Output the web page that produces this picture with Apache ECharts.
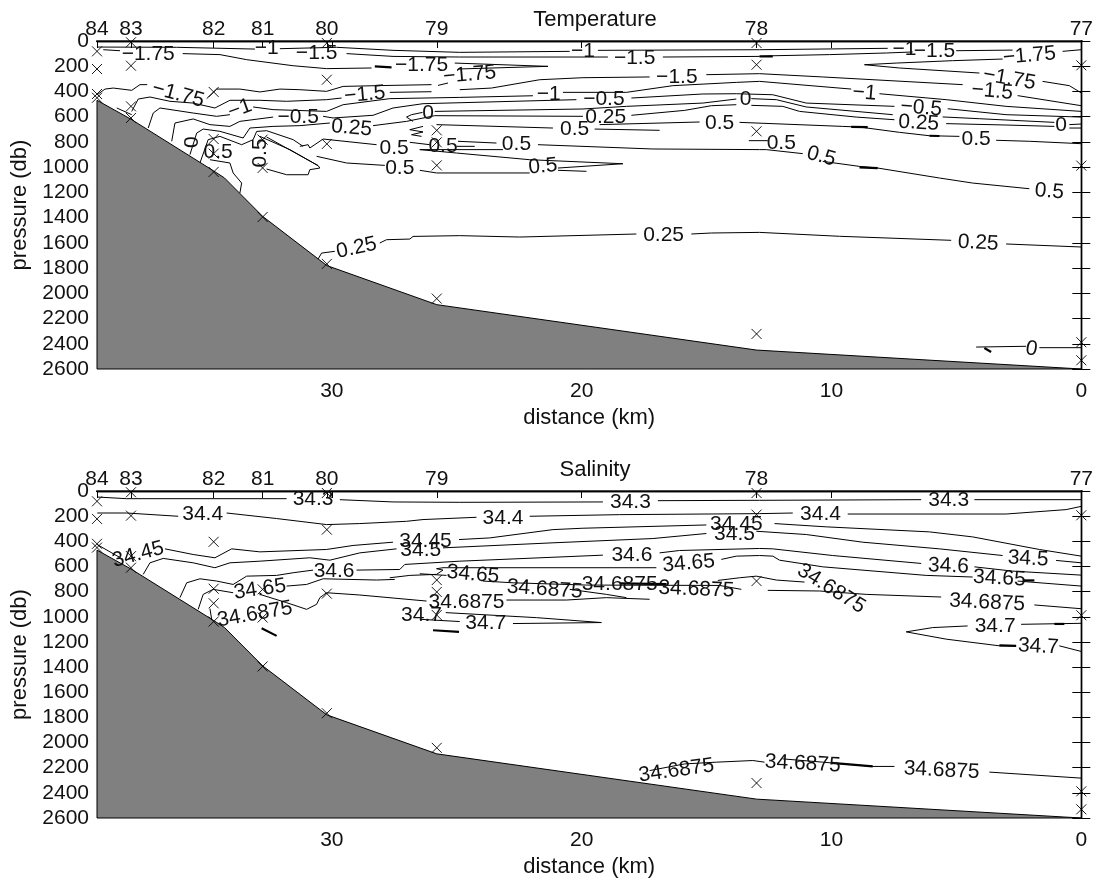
<!DOCTYPE html>
<html><head><meta charset="utf-8">
<style>html,body{margin:0;padding:0;background:#fff}#c{width:1096px;height:879px}</style>
<script src="https://cdn.jsdelivr.net/npm/echarts@6/dist/echarts.min.js"></script>
</head><body><div id="c"></div>
<script>
const stationKm=[39.4,38.04,34.73,32.77,30.2,25.8,13,0];
const stationNames=['84','83','82','81','80','79','78','77'];
const extraTopTicks=[10,20,30];
const bottomKm=[39.4,38.04,34.73,34.3,32.77,30.2,25.8,13,0];
const bottomDb=[470,620,1030,1085,1390,1780,2090,2450,2600];
const castPoints=[[39.4,82],[39.4,222],[39.4,420],[39.4,450],[38.04,10],[38.04,196],[38.04,518],[38.04,610],
[34.73,404],[34.73,777],[34.73,893],[34.73,1038],[32.77,782],[32.77,1006],[32.77,1395],
[30.2,16],[30.2,307],[30.2,816],[30.2,1767],[25.8,708],[25.8,803],[25.8,986],[25.8,2042],
[13,16],[13,188],[13,716],[13,2322],[0,193],[0,988],[0,2388],[0,2531]];
const pressureTicks={min:0,max:2600,step:200};

const tempContours=[
[[39.39,48],[36.21,50],[33.08,64]],
[[32.08,61],[29.81,50],[27.55,74],[24.88,90],[20.48,82]],
[[19.35,74],[12.88,69],[7.75,58]],
[[5.01,77],[2.75,72]],
[[0.75,82],[0,69]],
[[39.15,69],[38.48,77]],
[[35.97,100],[34.48,108],[33.41,148],[31.55,196],[30.21,219],[28.41,214]],
[[29.41,100],[27.55,122],[24.88,127],[18.95,127]],
[[16.75,127],[12.88,122],[12.35,117],[10.08,108],[7.81,95],[6.75,87]],
[[25.08,175],[21.35,201],[24.95,222]],
[[3.15,143],[5.15,156],[7.41,175],[8.68,188],[7.28,214],[4.08,254]],
[[1.55,320],[0.48,354],[0,412]],
[[39.39,426],[39.08,381],[38.75,373],[38.01,391],[37.68,346],[37.39,346]],
[[35.01,457],[34.61,381],[33.68,381],[32.88,404],[32.08,381],[31.28,386],[30.21,399],[29.55,360],[28.21,354],[26.01,346]],
[[25.75,352],[25.35,333]],
[[38.01,558],[37.75,460],[37.28,444],[36.48,478],[35.55,492],[34.68,531],[34.08,470],[32.88,470],[31.81,478],[30.21,465],[29.61,452]],
[[27.68,407],[26.01,402]],
[[24.88,386],[23.61,373],[21.68,307],[19.95,291],[17.28,285]],
[[15.01,267],[12.88,259],[10.35,285],[4.75,346]],
[[2.55,433],[0,513]],
[[37.35,690],[37.15,571],[36.88,531],[35.55,571],[34.61,597],[34.08,584]],
[[33.15,523],[32.35,544],[30.21,558],[29.55,505],[27.68,457],[24.88,447],[21.95,434]],
[[20.75,407],[18.21,407],[16.35,354],[13.81,328],[12.88,320],[9.21,381]],
[[8.08,418],[5.41,465],[3.01,518],[0,558]],
[[36.41,795],[36.28,650],[35.55,618],[34.88,663],[34.08,677],[33.68,637],[32.35,603]],
[[30.35,597],[29.95,610],[28.35,589],[27.55,531],[26.35,497],[20.21,465]],
[[18.01,452],[15.15,420],[13.81,418],[12.35,426],[11.01,492],[7.48,518]],
[[5.35,537],[3.01,584],[0,603]],
[[26.37,566],[26.81,584],[27.01,603],[26.75,637]],
[[25.88,558],[19.95,539],[18.21,518],[15.15,492],[13.81,460]],
[[13.21,457],[12.21,465],[11.01,523],[7.55,584]],
[[5.55,602],[4.08,616],[1.08,645]],
[[0.48,663],[0,658]],
[[5.41,655],[3.01,666],[1.08,677]],
[[0.48,690],[0,690]],
[[13.21,510],[11.95,518],[11.28,558],[9.01,603],[7.48,624]],
[[25.88,592],[19.95,597]],
[[18.01,589],[15.88,550],[14.81,513],[13.81,505]],
[[35.68,901],[35.41,730],[35.15,698],[34.48,716],[33.55,769],[33.28,690],[32.35,677],[31.28,671],[30.08,650]],
[[28.35,671],[27.01,637],[25.88,592]],
[[35.28,967],[34.95,782],[34.48,756],[33.61,822],[33.15,782],[33.01,717],[32.61,711],[31.55,782],[31.15,835]],
[[32.88,756],[31.68,861],[30.55,988],[30.48,1007],[30.88,1020],[30.95,1060],[31.81,1060],[32.61,1015]],
[[32.61,761],[30.55,988]],
[[34.88,941],[34.08,967],[33.95,1046],[33.61,1126],[33.68,1205]],
[[31.28,835],[30.95,822],[30.88,848],[30.35,777],[28.21,822]],
[[30.61,914],[29.41,967],[27.88,986]],
[[26.48,1025],[25.81,1046],[25.15,1046],[22.08,1046]],
[[20.95,1025],[19.81,1033]],
[[26.48,861],[25.01,888],[22.08,941],[18.35,973],[20.95,1007]],
[[26.88,803],[26.08,822]],
[[25.01,835],[24.28,835]],
[[26.48,861],[23.15,861]],
[[24.95,795],[23.41,809]],
[[21.75,822],[17.15,856],[12.88,861],[12.61,861],[11.15,893]],
[[10.35,954],[8.88,994],[8.15,1007],[5.68,1086],[4.35,1126],[2.08,1171]],
[[25.81,663],[21.15,690]],
[[19.48,698],[16.88,708]],
[[19.28,663],[15.28,642]],
[[13.68,645],[9.55,677],[8.88,682],[7.28,724],[6.08,751],[4.88,756]],
[[3.41,787],[2.08,795],[0,814]],
[[13.31,790],[12.55,790]],
[[26.35,677],[26.88,703],[26.35,721],[26.81,743],[26.41,756]],
[[30.55,1728],[30.41,1681],[29.88,1667]],
[[28.08,1601],[27.81,1575],[26.88,1570],[26.75,1549],[24.88,1543],[22.48,1554],[17.81,1530]],
[[15.61,1530],[14.81,1522],[12.88,1517],[9.68,1548],[5.21,1580]],
[[3.01,1609],[0,1633]],
[[4.21,2426],[2.21,2420]],
[[1.68,2431],[0,2431]],
[[38.61,531],[38.01,584]]
];
const tempThick=[
[[12.88,122],[12.35,122]],
[[28.28,201],[27.61,209]],
[[8.88,1002],[8.15,1007]],
[[3.88,2433],[3.61,2465]],
[[6.08,751],[5.68,753]],
[[9.21,680],[8.55,682]]
];
const tempLabels=[
[37.35,108,'−1.75',0],[36.15,425,'−1.75',-15],[33.68,539,'−1',20],[32.61,56,'−1',0],[30.61,95,'−1.5',0],
[26.41,188,'−1.75',0],[28.68,425,'−1.5',5],[31.35,603,'−0.5',0],[29.21,690,'0.25',-5],[26.15,571,'0',0],
[35.57,801,'0',90],[34.55,883,'0.5',0],[27.51,848,'0.5',0],[27.28,1007,'0.5',0],[25.55,835,'0.5',0],[32.88,888,'0.5',90],
[19.95,82,'−1',0],[17.88,140,'−1.5',0],[24.48,267,'−1.75',5],[16.19,285,'−1.5',0],[21.32,425,'−1',0],
[19.11,465,'−0.5',0],[19.04,603,'0.25',0],[20.28,703,'0.5',0],[14.48,650,'0.5',0],[13.44,465,'0',0],
[22.61,822,'0.5',0],[21.55,994,'0.5',5],[16.72,1540,'0.25',0],
[7.08,64,'−1',0],[5.88,82,'−1.5',0],[2.08,117,'−1.75',5],[2.88,301,'−1.75',-10],[3.57,399,'−1.5',-5],
[8.68,412,'−1',-5],[6.41,531,'−0.5',-5],[6.51,650,'0.25',-3],[0.81,669,'0',0],[4.21,777,'0.5',0],
[12.01,809,'0.5',0],[10.41,914,'0.5',-15],[1.28,1192,'0.5',-5],[4.13,1601,'0.25',-3],[1.99,2441,'0',-10],[29.01,1641,'0.25',12]
];

const salContours=[
[[39.39,48],[38.21,61],[31.81,61]],
[[29.68,69],[27.55,87],[24.88,90],[19.15,87]],
[[16.95,77],[12.88,74],[6.41,69]],
[[4.28,69],[0,69]],
[[39.39,175],[38.21,175],[36.15,201]],
[[34.21,175],[32.21,219],[30.21,267],[28.88,259],[27.01,241],[26.35,227],[24.21,209]],
[[22.08,201],[18.48,188],[12.88,180],[11.55,175]],
[[9.35,183],[3.01,183],[0.61,148],[0,122]],
[[39.39,426],[38.35,544]],
[[36.68,460],[35.55,505],[34.68,531],[34.01,460],[32.88,484],[30.21,465],[29.15,433],[27.55,407]],
[[24.91,386],[23.68,373],[21.15,307],[19.95,296],[15.01,270]],
[[12.28,259],[10.21,285],[6.08,325],[4.35,365],[1.68,465],[0,518]],
[[37.55,663],[37.28,571],[36.75,536],[35.55,571],[34.68,610],[34.08,571],[32.88,558],[30.88,531],[30.08,550],[28.88,492],[27.41,460]],
[[25.55,452],[21.15,412],[17.15,378],[15.01,338]],
[[13.01,320],[11.01,346],[8.75,407],[5.68,460],[3.15,513]],
[[1.01,552],[0,571]],
[[36.08,848],[35.81,730],[35.28,698],[34.61,716],[33.95,743],[33.41,677],[32.21,671],[31.55,650],[30.75,629]],
[[29.01,629],[27.28,624],[27.08,584],[24.88,558],[19.15,510]],
[[16.88,492],[16.08,473],[12.88,457],[12.35,460],[9.95,513],[6.41,576]],
[[4.28,603],[2.75,637],[0,669]],
[[35.35,941],[35.15,822],[34.75,782],[33.95,809]],
[[31.81,756],[31.01,743],[30.35,698],[28.21,708],[27.48,703]],
[[27.68,690],[26.88,671],[25.81,663],[25.55,629],[25.81,618],[25.55,610],[17.01,610]],
[[14.41,544],[13.81,518],[12.88,513],[12.35,518],[12.08,550],[10.35,603],[6.21,671],[4.35,684]],
[[2.55,716],[0,756]],
[[26.48,658],[25.41,671]],
[[32.88,822],[31.81,888],[31.01,941],[30.61,901],[30.48,848],[30.21,809],[28.88,827],[26.21,875]],
[[34.88,935],[34.81,1020]],
[[23.01,867],[20.61,867],[19.01,848],[17.28,861]],
[[23.95,716],[22.75,730],[19.81,748],[14.48,751],[13.61,782]],
[[20.48,782],[19.01,822],[18.21,848]],
[[14.55,711],[13.68,690],[13.01,677],[12.21,708],[11.08,724]],
[[12.55,790],[10.48,795],[8.61,822],[5.61,843]],
[[1.88,906],[0,936]],
[[25.44,967],[21.81,1007],[19.21,1046],[22.75,1054]],
[[26.48,1020],[24.88,1038]],
[[4.55,1073],[5.95,1086],[7.01,1120],[5.41,1178],[3.28,1231],[2.61,1231]],
[[2.41,1060],[0,1052]],
[[0.88,1231],[0,1276]],
[[17.28,2223],[15.88,2170],[14.6,2156],[13.15,2143],[12.68,2156]],
[[11.95,2130],[10.35,2156],[8.35,2190],[7.48,2190]],
[[3.68,2235],[0,2283]]
];
const salThick=[
[[25.95,1107],[24.91,1120]],
[[32.81,1091],[32.21,1152]],
[[2.35,711],[1.88,711]],
[[10,2162],[8.35,2190]],
[[3.28,1228],[2.61,1231]],
[[1.08,1057],[0.68,1057]],
[[18.48,735],[16.6,740]]
];
const salLabels=[
[30.75,69,'34.3',0],[35.17,188,'34.4',0],[37.75,505,'34.45',15],[26.25,399,'34.45',0],[26.44,470,'34.5',0],
[29.91,637,'34.6',0],[32.88,782,'34.65',8],[33.08,980,'34.6875',10],[26.41,986,'34.7',0],
[18.05,87,'34.3',0],[23.15,214,'34.4',0],[13.81,267,'34.45',0],[13.88,346,'34.5',0],[17.99,510,'34.6',0],
[24.35,663,'34.65',-5],[15.72,576,'34.65',5],[21.48,782,'34.6875',-4],[18.48,743,'34.6875',0],[15.41,782,'34.6875',-2],
[24.61,883,'34.6875',0],[23.84,1052,'34.7',0],
[5.31,74,'34.3',0],[10.44,188,'34.4',0],[2.13,539,'34.5',-3],[5.32,597,'34.6',-2],[3.28,695,'34.65',-3],
[10.01,777,'34.6875',-32],[3.77,888,'34.6875',-3],[3.45,1073,'34.7',0],[1.72,1237,'34.7',-3],
[11.15,2169,'34.6875',-3],[5.59,2222,'34.6875',-3],[16.21,2223,'34.6875',8]
];

const FONT='"Liberation Sans",Arial,sans-serif', INK='#111';
const panels=[
 {title:'Temperature',top:41,contours:tempContours,thick:tempThick,labels:tempLabels},
 {title:'Salinity',top:491,contours:salContours,thick:salThick,labels:salLabels}
];
const H=328,L=97,W=985;
const kmMax=stationKm[0], dbMax=pressureTicks.max;
const axisLine={show:true,lineStyle:{color:'#000',width:1.4}};
const text={fontFamily:FONT,fontSize:21,color:INK};
const big={fontFamily:FONT,fontSize:22,color:INK};
const grid=[],xAxis=[],yAxis=[],series=[],title=[];
panels.forEach((pn,i)=>{
 grid.push({left:L,top:pn.top,width:W,height:H});
 title.push({text:pn.title,left:590,textAlign:'center',top:pn.top-37,textStyle:{...big,fontWeight:'normal'}});
 const bx=xAxis.length, ly=yAxis.length;
 xAxis.push({type:'value',gridIndex:i,position:'bottom',min:0,max:kmMax,inverse:true,interval:10,
  axisLine,axisTick:{show:false},splitLine:{show:false},
  axisLabel:{...text,margin:12,showMaxLabel:false},
  name:'distance (km)',nameLocation:'middle',nameGap:38,nameTextStyle:big});
 xAxis.push({type:'value',gridIndex:i,position:'top',min:0,max:kmMax,inverse:true,
  axisLine,splitLine:{show:false},
  axisTick:{show:true,inside:true,length:7,lineStyle:{color:'#000',width:1},customValues:stationKm.concat(extraTopTicks)},
  axisLabel:{...text,margin:1,customValues:stationKm,formatter:v=>stationNames[stationKm.indexOf(v)]??''}});
 yAxis.push({type:'value',gridIndex:i,position:'left',min:pressureTicks.min,max:dbMax,interval:pressureTicks.step,inverse:true,
  axisLine,axisTick:{show:true,inside:true,length:9,lineStyle:{color:'#000',width:1}},splitLine:{show:false},
  axisLabel:{...text,margin:8,padding:[3,0,0,0],formatter:v=>String(v)},
  name:'pressure (db)',nameLocation:'middle',nameGap:60,nameTextStyle:big});
 yAxis.push({type:'value',gridIndex:i,position:'right',min:pressureTicks.min,max:dbMax,interval:pressureTicks.step,inverse:true,
  axisLine,axisTick:{show:true,inside:true,length:9,lineStyle:{color:'#000',width:1}},splitLine:{show:false},
  axisLabel:{show:false}});
 const base={xAxisIndex:bx,yAxisIndex:ly};
 const seg=(d,w)=>({...base,type:'line',data:d,symbol:'none',silent:true,z:3,clip:false,
   lineStyle:{color:'#000',width:w},animation:false});
 pn.contours.forEach(d=>series.push(seg(d,1)));
 pn.thick.forEach(d=>series.push(seg(d,2.2)));
 series.push(seg([[-0.28,0],[kmMax+0.28,0]],1));
 series.push({...base,type:'custom',z:4,clip:false,silent:true,
  data:bottomKm.map((k,j)=>[k,bottomDb[j]]),
  renderItem:(p,api)=>{
   if(p.dataIndex!==0)return null;
   const pts=bottomKm.map((k,j)=>api.coord([k,bottomDb[j]]));
   pts.push(api.coord([kmMax,dbMax]));
   return {type:'polygon',shape:{points:pts},style:{fill:'#808080',stroke:'#000',lineWidth:1}};
  }});
 series.push({...base,type:'scatter',z:5,silent:true,clip:false,data:castPoints,symbol:'path://M0 0L10 10M10 0L0 10',symbolSize:10,
  itemStyle:{color:'none',borderColor:'#000',borderWidth:0.9,opacity:1}});
 series.push({...base,type:'scatter',z:6,silent:true,clip:false,symbolSize:1,itemStyle:{color:'rgba(0,0,0,0)',opacity:1},
  data:pn.labels.map(l=>({value:[l[0],l[1]],label:{rotate:l[3],formatter:l[2]}})),
  label:{show:true,position:'inside',align:'center',verticalAlign:'middle',...text}});
});
const chart=echarts.init(document.getElementById('c'),null,{renderer:'canvas'});
chart.setOption({animation:false,backgroundColor:'#fff',title,grid,xAxis,yAxis,series});
</script></body></html>
